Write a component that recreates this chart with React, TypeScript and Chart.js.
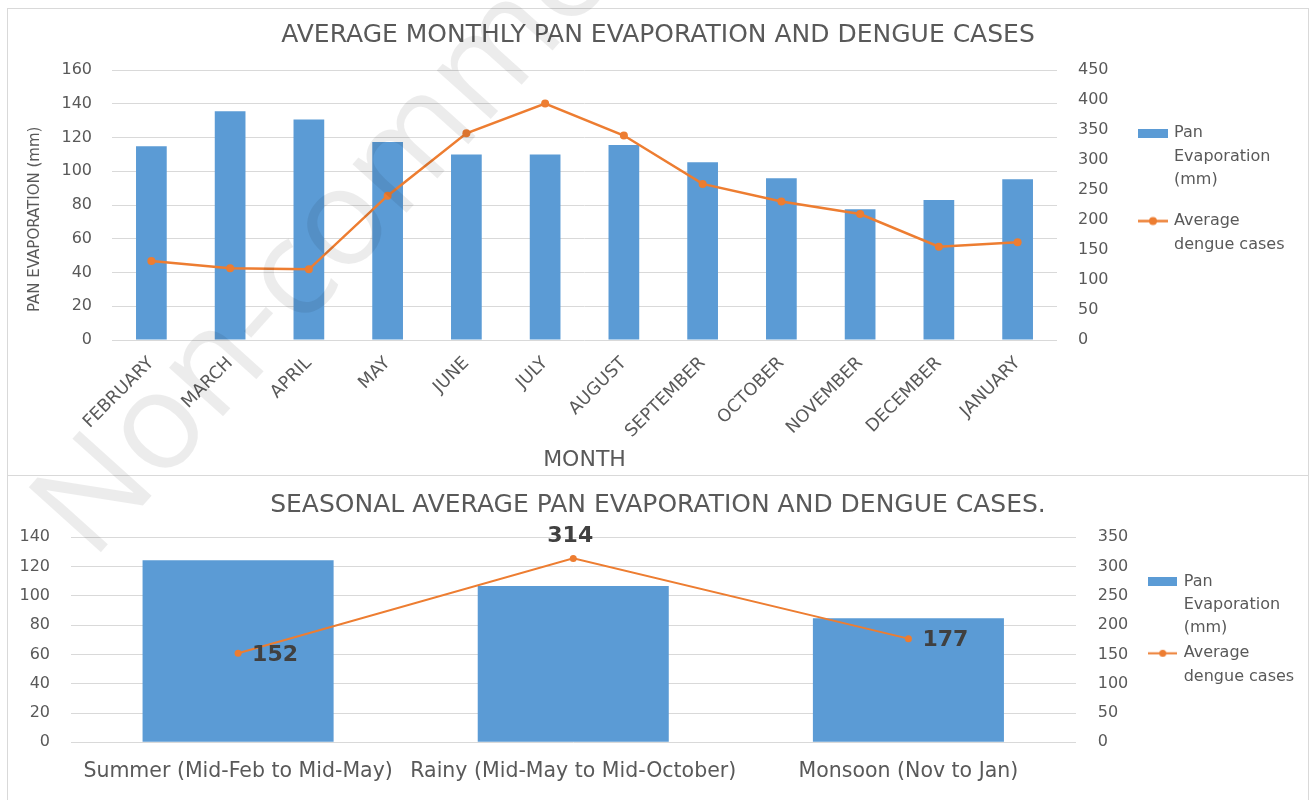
import React, { useEffect, useRef } from "react";
import { Chart, registerables } from "chart.js";

Chart.register(...registerables);

// ---------------- data ----------------
const months = [
  "FEBRUARY", "MARCH", "APRIL", "MAY", "JUNE", "JULY",
  "AUGUST", "SEPTEMBER", "OCTOBER", "NOVEMBER", "DECEMBER", "JANUARY",
];
const monthlyPanEvaporation = [114.8, 135.5, 130.7, 117.4, 110, 110, 115.6, 105.3, 95.8, 77.5, 82.9, 95.2];
const monthlyDengueCases = [131.7, 119.5, 117.8, 240.5, 344.4, 394.2, 340.8, 260.2, 230.8, 210, 155.6, 162.8];
const monthlyLeftTicks = [0, 20, 40, 60, 80, 100, 120, 140, 160];
const monthlyRightTicks = [0, 50, 100, 150, 200, 250, 300, 350, 400, 450];

const seasons = ["Summer (Mid-Feb to Mid-May)", "Rainy (Mid-May to Mid-October)", "Monsoon (Nov to Jan)"];
const seasonalPanEvaporation = [124.3, 106.8, 84.7];
const seasonalDengueCases = [152, 314, 177];
const seasonalLabelPositions = ["right", "above", "right"];
const seasonalLeftTicks = [0, 20, 40, 60, 80, 100, 120, 140];
const seasonalRightTicks = [0, 50, 100, 150, 200, 250, 300, 350];

const monthlyTitle = "AVERAGE MONTHLY PAN EVAPORATION AND DENGUE CASES";
const seasonalTitle = "SEASONAL AVERAGE PAN EVAPORATION AND DENGUE CASES.";
const monthlyXTitle = "MONTH";
const monthlyYTitle = "PAN EVAPORATION (mm)";
const barSeriesName = "Pan Evaporation (mm)";
const lineSeriesName = "Average dengue cases";
const legendBarLines = ["Pan", "Evaporation", "(mm)"];
const legendLineLines = ["Average", "dengue cases"];
const watermarkText = "Non-commercial";

// ---------------- styles ----------------
const FAMILY = "'DejaVu Sans', sans-serif";
const TEXT = "#595959";
const GRID = "#D9D9D9";
const BLUE = "#5B9BD5";
const ORANGE = "#ED7D31";
const LABEL_DARK = "#404040";
const NBSP = "\u00A0";

function measure(text: string, size: number) {
  const ctx = document.createElement("canvas").getContext("2d")!;
  ctx.font = `normal ${size}px ${FAMILY}`;
  return ctx.measureText(text).width;
}
function longestByLength(lines: string[]) {
  return lines.reduce((a, b) => (a.length > b.length ? a : b));
}
function rectImage(w: number, h: number, color: string) {
  const c = document.createElement("canvas");
  c.width = w;
  c.height = h;
  const x = c.getContext("2d")!;
  x.fillStyle = color;
  x.fillRect(0, 0, w, h);
  return c;
}
function lineMarkerImage(w: number, h: number, color: string, lw: number, r: number) {
  const c = document.createElement("canvas");
  c.width = w;
  c.height = h;
  const x = c.getContext("2d")!;
  x.strokeStyle = color;
  x.lineWidth = lw;
  x.beginPath();
  x.moveTo(0, h / 2);
  x.lineTo(w, h / 2);
  x.stroke();
  x.fillStyle = color;
  x.beginPath();
  x.arc(w / 2, h / 2, r, 0, Math.PI * 2);
  x.fill();
  return c;
}

type Layout = {
  W: number;
  H: number;
  area: { left: number; right: number; top: number; bottom: number };
  titleSize: number;
  titleCenter: number;
  legend: { size: number; lineHeight: number; padding: number; left: number; spacer: number; swatch: number; img: number };
};

function buildChart(
  canvas: HTMLCanvasElement,
  L: Layout,
  opts: {
    title: string;
    labels: string[];
    bars: number[];
    line: number[];
    leftTicks: number[];
    rightTicks: number[];
    barPct: number;
    lineWidth: number;
    pointRadius: number;
    xTickFont: number;
    xTickPadding: number;
    rotate: boolean;
    xTitle?: string;
    yTitle?: string;
    yTitleShift?: number;
    leftPad: number;
    rightPad: number;
    plugins?: any[];
  }
) {
  const lg = L.legend;
  const textW = Math.max(
    measure(longestByLength(legendBarLines), lg.size),
    measure(longestByLength(legendLineLines), lg.size)
  );
  // Chart.js adds 10px to the width of a vertical legend
  const legendW = lg.padding + lg.swatch + lg.size / 2 + textW + 10;
  const pad = Math.max(0, L.W - lg.left - legendW);
  const rightAxisW = lg.left - L.area.right;
  const leftAxisW = L.area.left - pad;
  const titleLH = L.titleSize * 1.2;
  const titleTop = L.titleCenter - titleLH / 2;
  const titleBottom = L.area.top - titleTop - titleLH;

  const barImg = rectImage(lg.img, 9, BLUE);
  const lineImg = lineMarkerImage(lg.img, 11, ORANGE, opts.lineWidth, opts.pointRadius);

  const xTitleSize = 22;
  const yTitleSize = 15;
  let yTitleText = opts.yTitle || "";
  if (opts.yTitleShift) {
    const sp = measure(NBSP, yTitleSize);
    const n = Math.round((2 * opts.yTitleShift) / sp);
    yTitleText = yTitleText + NBSP.repeat(n);
  }
  return new Chart(canvas, {
    type: "bar",
    data: {
      labels: opts.labels,
      datasets: [
        {
          type: "bar",
          label: barSeriesName,
          data: opts.bars,
          backgroundColor: BLUE,
          yAxisID: "y",
          order: 1,
          barPercentage: opts.barPct,
          categoryPercentage: 1,
        } as any,
        {
          type: "line",
          label: lineSeriesName,
          data: opts.line,
          borderColor: ORANGE,
          backgroundColor: ORANGE,
          borderWidth: opts.lineWidth,
          pointRadius: opts.pointRadius,
          pointBackgroundColor: ORANGE,
          pointBorderWidth: 0,
          tension: 0,
          yAxisID: "y1",
          order: 0,
        } as any,
      ],
    },
    options: {
      responsive: false,
      animation: false,
      devicePixelRatio: 1,
      layout: { padding: { left: pad, right: pad, top: 0, bottom: 0 } },
      plugins: {
        title: {
          display: true,
          text: opts.title,
          color: TEXT,
          font: { family: FAMILY, size: L.titleSize, weight: "normal", lineHeight: 1.2 },
          padding: { top: titleTop, bottom: titleBottom },
        },
        legend: {
          position: "right",
          align: "start",
          fullSize: false,
          title: {
            display: true,
            text: " ",
            font: { family: FAMILY, size: 10, lineHeight: 1 },
            padding: { top: lg.spacer - 10, bottom: 0 },
          },
          labels: {
            usePointStyle: true,
            pointStyleWidth: lg.swatch,
            boxHeight: 9,
            padding: lg.padding,
            color: TEXT,
            font: { family: FAMILY, size: lg.size, lineHeight: lg.lineHeight },
            generateLabels: (chart: any) => {
              const items = (Chart.defaults.plugins.legend.labels as any).generateLabels(chart);
              items.sort((a: any, b: any) => a.datasetIndex - b.datasetIndex);
              return items.map((it: any) => ({
                ...it,
                text: it.datasetIndex === 0 ? legendBarLines : legendLineLines,
                pointStyle: it.datasetIndex === 0 ? barImg : lineImg,
                fontColor: TEXT,
                lineWidth: 0,
              }));
            },
          },
        },
        tooltip: { enabled: false },
      },
      scales: {
        x: {
          offset: true,
          grid: { display: false },
          border: { display: false },
          ticks: {
            color: TEXT,
            font: { family: FAMILY, size: opts.xTickFont },
            minRotation: opts.rotate ? 45 : 0,
            maxRotation: opts.rotate ? 45 : 0,
            autoSkip: false,
            padding: opts.xTickPadding,
          },
          title: opts.xTitle
            ? {
                display: true,
                text: opts.xTitle,
                color: TEXT,
                font: { family: FAMILY, size: xTitleSize, lineHeight: 1.2 },
                padding: { top: 0, bottom: 16 - xTitleSize * 0.6 },
              }
            : { display: false },
          afterFit: (s: any) => {
            s.height = L.H - L.area.bottom;
          },
        } as any,
        y: {
          position: "left",
          min: opts.leftTicks[0],
          max: opts.leftTicks[opts.leftTicks.length - 1],
          ticks: {
            stepSize: opts.leftTicks[1] - opts.leftTicks[0],
            color: TEXT,
            font: { family: FAMILY, size: 16 },
            padding: opts.leftPad,
          },
          grid: { color: GRID, lineWidth: 1, drawTicks: false },
          border: { display: false },
          title: opts.yTitle
            ? {
                display: true,
                text: yTitleText,
                color: TEXT,
                font: { family: FAMILY, size: yTitleSize, lineHeight: 1.2 },
                padding: { top: 28 - yTitleSize * 0.6 - pad, bottom: 0 },
              }
            : { display: false },
          afterFit: (s: any) => {
            s.width = leftAxisW;
          },
        } as any,
        y1: {
          position: "right",
          min: opts.rightTicks[0],
          max: opts.rightTicks[opts.rightTicks.length - 1],
          ticks: {
            stepSize: opts.rightTicks[1] - opts.rightTicks[0],
            color: TEXT,
            font: { family: FAMILY, size: 16 },
            padding: opts.rightPad,
          },
          grid: { drawOnChartArea: false, drawTicks: false },
          border: { display: false },
          afterFit: (s: any) => {
            s.width = rightAxisW;
          },
        } as any,
      },
    },
    plugins: opts.plugins || [],
  } as any);
}

function MonthlyChart() {
  const ref = useRef<HTMLCanvasElement>(null);
  useEffect(() => {
    const L: Layout = {
      W: 1302,
      H: 468,
      area: { left: 105, right: 1050, top: 62, bottom: 332 },
      titleSize: 25,
      titleCenter: 27,
      legend: { size: 16, lineHeight: 1.47, padding: 17.5, left: 1115.5, spacer: 37.5, swatch: 26, img: 30 },
    };
    const chart = buildChart(ref.current!, L, {
      title: monthlyTitle,
      labels: months,
      bars: monthlyPanEvaporation,
      line: monthlyDengueCases,
      leftTicks: monthlyLeftTicks,
      rightTicks: monthlyRightTicks,
      barPct: 0.39,
      lineWidth: 2.5,
      pointRadius: 4,
      xTickFont: 17.5,
      xTickPadding: 5,
      rotate: true,
      xTitle: monthlyXTitle,
      yTitle: monthlyYTitle,
      yTitleShift: 15,
      leftPad: 20,
      rightPad: 21,
    });
    return () => chart.destroy();
  }, []);
  return (
    <canvas
      ref={ref}
      width={1302}
      height={468}
      style={{ position: "absolute", left: 7, top: 8, width: 1302, height: 468 }}
    />
  );
}

const seasonalValueLabels = {
  id: "seasonalValueLabels",
  afterDatasetsDraw(chart: any) {
    const meta = chart.getDatasetMeta(1);
    const ctx = chart.ctx;
    ctx.save();
    ctx.font = `bold 22px ${FAMILY}`;
    ctx.fillStyle = LABEL_DARK;
    ctx.textBaseline = "middle";
    meta.data.forEach((pt: any, i: number) => {
      const text = String(seasonalDengueCases[i]);
      if (seasonalLabelPositions[i] === "above") {
        ctx.textAlign = "center";
        ctx.fillText(text, pt.x - 3, pt.y - 22);
      } else {
        ctx.textAlign = "left";
        ctx.fillText(text, pt.x + 14, pt.y + 2);
      }
    });
    ctx.restore();
  },
};

function SeasonalChart() {
  const ref = useRef<HTMLCanvasElement>(null);
  useEffect(() => {
    const L: Layout = {
      W: 1302,
      H: 324,
      area: { left: 63.5, right: 1069, top: 61.3, bottom: 266.3 },
      titleSize: 25,
      titleCenter: 29,
      legend: { size: 16, lineHeight: 1.456, padding: 1.7, left: 1141, spacer: 34.7, swatch: 26, img: 29 },
    };
    const chart = buildChart(ref.current!, L, {
      title: seasonalTitle,
      labels: seasons,
      bars: seasonalPanEvaporation,
      line: seasonalDengueCases,
      leftTicks: seasonalLeftTicks,
      rightTicks: seasonalRightTicks,
      barPct: 0.57,
      lineWidth: 2,
      pointRadius: 3.5,
      xTickFont: 20.5,
      xTickPadding: 9,
      rotate: false,
      leftPad: 20.5,
      rightPad: 21.7,
      plugins: [seasonalValueLabels],
    });
    return () => chart.destroy();
  }, []);
  return (
    <canvas
      ref={ref}
      width={1302}
      height={324}
      style={{ position: "absolute", left: 7, top: 476, width: 1302, height: 324 }}
    />
  );
}

export default function App() {
  return (
    <div
      style={{
        position: "absolute",
        left: 0,
        top: 0,
        width: 1316,
        height: 800,
        background: "#ffffff",
        overflow: "hidden",
      }}
    >
      <div
        style={{
          position: "absolute",
          left: 7,
          top: 8,
          width: 1302,
          height: 468,
          border: "1px solid #D9D9D9",
          boxSizing: "border-box",
        }}
      />
      <div
        style={{
          position: "absolute",
          left: 7,
          top: 475,
          width: 1302,
          height: 340,
          border: "1px solid #D9D9D9",
          boxSizing: "border-box",
        }}
      />
      <MonthlyChart />
      <SeasonalChart />
      <svg
        width={1316}
        height={800}
        style={{ position: "absolute", left: 0, top: 0, pointerEvents: "none" }}
      >
        <text
          x={92}
          y={562}
          transform="rotate(-48 92 562)"
          fontFamily="'Open Sans', sans-serif"
          fontSize={136}
          fill="#000000"
          fillOpacity={0.075}
        >
          {watermarkText}
        </text>
      </svg>
    </div>
  );
}
